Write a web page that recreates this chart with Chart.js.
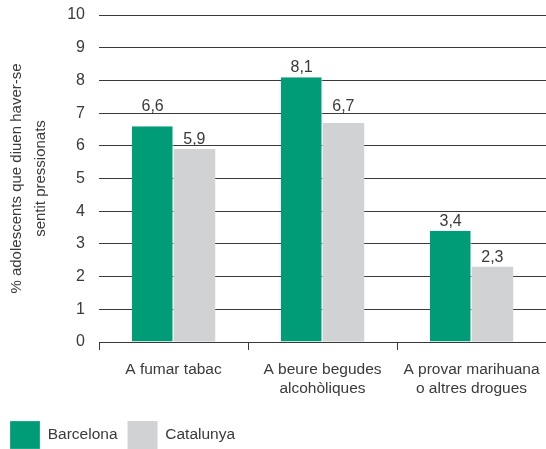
<!DOCTYPE html>
<html>
<head>
<meta charset="utf-8">
<script src="https://cdn.jsdelivr.net/npm/chart.js@4"></script>
<style>
  html, body { margin: 0; padding: 0; background: #fff; }
  #wrap { width: 546px; height: 449px; position: relative; overflow: hidden; }
</style>
</head>
<body>
<div id="wrap"><canvas id="c"></canvas></div>
<script>
// Categories and values (% of adolescents)
const categories = [
  ['A fumar tabac'],
  ['A beure begudes', 'alcohòliques'],
  ['A provar marihuana', 'o altres drogues']
];
const barcelona = [6.6, 8.1, 3.4];
const catalunya = [5.9, 6.7, 2.3];
const seriesNames = ['Barcelona', 'Catalunya'];
const yTicks = [0, 1, 2, 3, 4, 5, 6, 7, 8, 9, 10];
const yTitle = ['% adolescents que diuen haver-se', 'sentit pressionats'];

const GREEN = '#009b77';
const GREY = '#d1d2d4';
const INK = '#3a3a3a';
const LINE = '#3a3a3a';
const FONT = "'Liberation Sans', Arial, sans-serif";

// Value labels above each bar, with a decimal comma.
// A label that would be crossed by a gridline is lifted to sit just above it.
const valueLabels = {
  id: 'valueLabels',
  afterDatasetsDraw(chart) {
    const ctx = chart.ctx;
    const yScale = chart.scales.y;
    const gridPx = yTicks.map(v => yScale.getPixelForValue(v));
    const textH = 12;
    ctx.save();
    ctx.font = '16px ' + FONT;
    ctx.fillStyle = INK;
    ctx.textAlign = 'center';
    ctx.textBaseline = 'alphabetic';
    chart.data.datasets.forEach((ds, i) => {
      chart.getDatasetMeta(i).data.forEach((bar, j) => {
        const txt = ds.data[j].toFixed(1).replace('.', ',');
        let base = bar.y - 5;
        gridPx.forEach(g => {
          if (g > base - textH - 1 && g < base + 1) base = g - 2;
        });
        ctx.fillText(txt, bar.x, base);
      });
    });
    ctx.restore();
  }
};

new Chart(document.getElementById('c'), {
  type: 'bar',
  data: {
    labels: categories,
    datasets: [
      { label: seriesNames[0], data: barcelona, backgroundColor: GREEN,
        borderColor: '#ffffff', borderWidth: { right: 1 }, borderSkipped: false },
      { label: seriesNames[1], data: catalunya, backgroundColor: GREY,
        borderColor: '#ffffff', borderWidth: { left: 0 }, borderSkipped: false }
    ]
  },
  options: {
    responsive: true,
    maintainAspectRatio: false,
    animation: false,
    datasets: { bar: { categoryPercentage: 0.56, barPercentage: 1.0 } },
    layout: { padding: { top: 15, right: 0, left: 0, bottom: -10 } },
    plugins: {
      tooltip: { enabled: false },
      legend: {
        position: 'bottom',
        align: 'start',
        labels: {
          boxWidth: 30,
          boxHeight: 28,
          padding: 10,
          color: INK,
          font: { family: FONT, size: 15.5 }
        }
      }
    },
    scales: {
      x: {
        grid: {
          offset: true,
          drawOnChartArea: false,
          drawTicks: true,
          tickLength: 8,
          color: LINE,
          lineWidth: 1
        },
        border: { display: true, color: LINE, width: 1 },
        ticks: {
          color: INK,
          padding: 10,
          maxRotation: 0,
          font: { family: FONT, size: 15.5, lineHeight: 1.25 }
        },
        afterFit(scale) {
          scale.height = 69;
          scale.paddingLeft = 0;
          scale.paddingRight = 0;
        }
      },
      y: {
        min: 0,
        max: 10,
        afterBuildTicks(scale) { scale.ticks = yTicks.map(v => ({ value: v })); },
        grid: { color: LINE, lineWidth: 1, drawTicks: false },
        border: { display: false },
        ticks: {
          color: INK,
          padding: 14,
          font: { family: FONT, size: 16 }
        },
        title: {
          display: true,
          text: yTitle,
          color: INK,
          padding: { top: 4, bottom: 0 },
          font: { family: FONT, size: 15, lineHeight: 1.65 }
        },
        afterFit(scale) {
          scale.width = 99;
          scale.paddingTop = 0;
          scale.paddingBottom = 0;
        }
      }
    }
  },
  plugins: [valueLabels]
});
</script>
</body>
</html>
